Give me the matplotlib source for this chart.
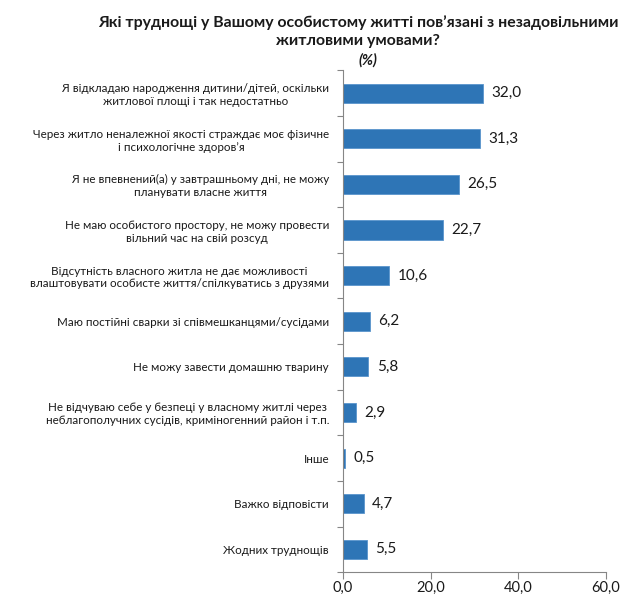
import matplotlib
matplotlib.use('Agg')
import matplotlib.pyplot as plt
import numpy as np

plt.rcParams['font.family'] = ['Lato', 'DejaVu Sans']

labels = [
    'Я відкладаю народження дитини/дітей, оскільки\nжитлової площі і так недостатньо',
    'Через житло неналежної якості страждає моє фізичне\nі психологічне здоров’я',
    'Я не впевнений(а) у завтрашньому дні, не можу\nпланувати власне життя',
    'Не маю особистого простору, не можу провести\nвільний час на свій розсуд',
    'Відсутність власного житла не дає можливості\nвлаштовувати особисте життя/спілкуватись з друзями',
    'Маю постійні сварки зі співмешканцями/сусідами',
    'Не можу завести домашню тварину',
    'Не відчуваю себе у безпеці у власному житлі через\nнеблагополучних сусідів, криміногенний район і т.п.',
    'Інше',
    'Важко відповісти',
    'Жодних труднощів',
]
values = [32.0, 31.3, 26.5, 22.7, 10.6, 6.2, 5.8, 2.9, 0.5, 4.7, 5.5]
xticks = [0, 20, 40, 60]

title = 'Які труднощі у Вашому особистому житті пов’язані з незадовільними\nжитловими умовами?'

bar_color = '#2e75b6'
grey = '#868686'

fig = plt.figure(figsize=(6.34, 5.96), dpi=100)
ax = fig.add_axes([0.541, 0.040, 0.415, 0.842])

y = np.arange(len(values))
ax.barh(y, values, height=0.42, color=bar_color, edgecolor='#5a95cc', linewidth=0.6)
ax.set_ylim(len(values) - 0.5, -0.5)
ax.set_xlim(0, 60)

for yi, v in zip(y, values):
    ax.text(v + 1.9, yi, ('%.1f' % v).replace('.', ','), va='center', ha='left',
            fontsize=11, color='#1a1a1a')

ax.set_yticks(np.arange(len(values) + 1) - 0.5, minor=False)
ax.set_yticklabels([])
ax.set_yticks(y, minor=True)
ax.set_yticklabels(labels, minor=True, fontsize=8.4, color='#1a1a1a', multialignment='center')
ax.tick_params(axis='y', which='minor', length=0, pad=10)
ax.tick_params(axis='y', which='major', length=4, color=grey, direction='out')

ax.set_xticks(xticks)
ax.set_xticklabels([('%.1f' % t).replace('.', ',') for t in xticks], fontsize=10.5, color='#1a1a1a')
ax.tick_params(axis='x', length=5, color=grey, direction='out', pad=1.5)

for s in ['top', 'right']:
    ax.spines[s].set_visible(False)
for s in ['left', 'bottom']:
    ax.spines[s].set_color(grey)
    ax.spines[s].set_linewidth(0.8)

fig.text(0.565, 0.947, title, ha='center', va='center', fontsize=11.4,
         fontweight='bold', color='#1a1a1a', linespacing=1.35)
fig.text(0.58, 0.899, '(%)', ha='center', va='center', fontsize=10.5,
         fontweight='bold', fontstyle='italic', color='#1a1a1a')

fig.savefig('out.png', dpi=100)
